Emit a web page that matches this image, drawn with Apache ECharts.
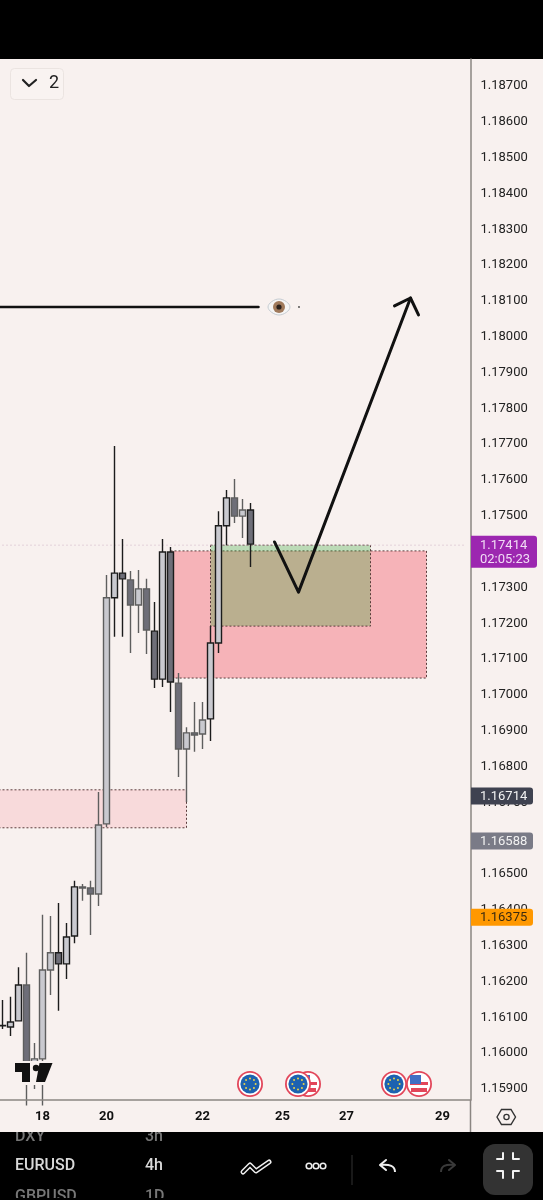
<!DOCTYPE html>
<html><head><meta charset="utf-8">
<style>html,body{margin:0;padding:0;background:#f8f1ef}#c{width:543px;height:1200px}</style>
<script src="https://cdn.jsdelivr.net/npm/echarts@6/dist/echarts.min.js"></script>
</head><body><div id="c"></div>
<script>
// ---------- data ----------
const dayLabels = {6:'18',14:'20',26:'22',36:'25',44:'27',56:'29'};
const categories = Array.from({length:60},(_,i)=>dayLabels[i]||'');
const yTicks = [1.159,1.160,1.161,1.162,1.163,1.164,1.165,1.166,1.167,1.168,1.169,1.170,1.171,1.172,1.173,1.174,1.175,1.176,1.177,1.178,1.179,1.180,1.181,1.182,1.183,1.184,1.185,1.186,1.187];
const opens  = [1.16072,1.16069,1.16086,1.16186,1.15971,1.15980,1.16228,1.16276,1.16245,1.16323,1.16457,1.16457,1.16440,1.16636,1.17267,1.17336,1.17317,1.17247,1.17292,1.17174,1.17040,1.17395,1.17029,1.16845,1.16890,1.16887,1.16929,1.17141,1.17468,1.17546,1.17495,1.17512];
const closes = [1.16073,1.16083,1.16186,1.15935,1.15980,1.16228,1.16276,1.16245,1.16320,1.16460,1.16460,1.16440,1.16633,1.17267,1.17336,1.17320,1.17247,1.17292,1.17177,1.17040,1.17395,1.17032,1.16845,1.16890,1.16884,1.16926,1.17141,1.17468,1.17546,1.17495,1.17512,1.17417];
const lows   = [1.16063,1.16044,1.16086,1.15850,1.15896,1.15850,1.16158,1.16114,1.16203,1.16303,1.16421,1.16326,1.16407,1.16627,1.17158,1.17158,1.17113,1.17169,1.17110,1.17015,1.17018,1.16948,1.16767,1.16697,1.16837,1.16845,1.16867,1.17113,1.17414,1.17476,1.17434,1.17353];
const highs  = [1.16144,1.16153,1.16236,1.16276,1.16024,1.16382,1.16379,1.16415,1.16359,1.16477,1.16468,1.16477,1.16725,1.17331,1.17691,1.17431,1.17342,1.17345,1.17320,1.17255,1.17431,1.17409,1.17057,1.16906,1.16976,1.16976,1.17188,1.17509,1.17568,1.17599,1.17543,1.17532];
const greyWick = [0,0,0,1,1,1,1,0,0,0,1,1,1,1,0,0,1,1,1,0,0,0,1,1,1,1,0,0,0,1,1,0];
const bigZone   = [22,54,1.17398,1.17043];
const greenZone = [27,47,1.17414,1.17188];
const lowZone   = [0,24,1.16731,1.16625];
const levelLine = [[0,1.18079],[33,1.18079]];
const arrowPath = [[35,1.17423],[38,1.17283],[52,1.18104]];
const arrowHead = [[50,1.18082],[52,1.18104],[53,1.18057]];
const lastPrice = 1.17414;
const countdown = '02:05:23';
const tagPrices = [1.16714,1.16588,1.16375];

// ---------- styles ----------
const BG='#f8f1ef', AXIS='#8b8682', FONT='Roboto, sans-serif';
const zoneFill=['#f6b3b8','rgba(45,165,50,0.3)','#f8dadb'];
const tagFill=['#3f4250','#7a7b87','#ff9800'], tagText=['#f2f2f2','#f2f2f2','#3a2a10'];

const candleData = opens.map((o,i)=>({
  value:[i+1,o,closes[i],lows[i],highs[i]],
  itemStyle: greyWick[i] ? {borderColor:'#5e5e5e',borderColor0:'#5e5e5e'} : undefined
}));

function zoneSeries(z,idx){
  return {type:'custom',z:1,silent:true,clip:true,data:[z],
    renderItem(p,api){
      const a=api.coord([api.value(0),api.value(2)]), b=api.coord([api.value(1),api.value(3)]);
      return {type:'rect',shape:{x:a[0],y:a[1],width:b[0]-a[0],height:b[1]-a[1]},
        style:{fill:zoneFill[idx],stroke:'#5a3c3c',lineWidth:1,lineDash:[2,2]}};
    }};
}
function lineSeries(d,w,extra){
  return Object.assign({type:'line',data:d,symbol:'none',silent:true,z:5,animation:false,
    lineStyle:{color:'#111',width:w,cap:'round',join:'round'}},extra||{});
}

// ---------- decorations ----------
const g=[];
function flagEU(x,y,z){
  g.push({type:'circle',z,shape:{cx:x,cy:y,r:13},style:{fill:'#e2465a'}});
  g.push({type:'circle',z,shape:{cx:x,cy:y,r:11.2},style:{fill:'#fff'}});
  g.push({type:'circle',z,shape:{cx:x,cy:y,r:9.6},style:{fill:'#1d62b0'}});
  for(let k=0;k<8;k++){const t=k*Math.PI/4;
    g.push({type:'circle',z,shape:{cx:x+5.6*Math.cos(t),cy:y+5.6*Math.sin(t),r:1},style:{fill:'#e9d24a'}});}
}
function flagUS(x,y,z){
  g.push({type:'circle',z,shape:{cx:x,cy:y,r:13},style:{fill:'#e2465a'}});
  g.push({type:'circle',z,shape:{cx:x,cy:y,r:11.2},style:{fill:'#fff'}});
  g.push({type:'rect',z,shape:{x:x-9,y:y-2,width:18,height:3},style:{fill:'#e2465a'}});
  g.push({type:'rect',z,shape:{x:x-8,y:y+4,width:16,height:4},style:{fill:'#e2465a'}});
  g.push({type:'rect',z,shape:{x:x-9,y:y-9,width:11,height:9},style:{fill:'#3f6fc4'}});
}
function poly(points,stroke,w,z,extra){
  g.push(Object.assign({type:'polyline',z,shape:{points},style:{stroke,lineWidth:w,fill:null,lineCap:'round',lineJoin:'round'}},extra||{}));
}
function txt(text,x,y,font,fill,z,align){
  g.push({type:'text',z,x,y,style:{text,font,fill,align:align||'left',verticalAlign:'middle'}});
}
// bars
g.push({type:'rect',z:0,shape:{x:0,y:0,width:543,height:59},style:{fill:'#000'}});
g.push({type:'rect',z:0,shape:{x:0,y:1132,width:543,height:68},style:{fill:'#000'}});
// wheel text
txt('DXY',15,1137,'500 16px '+FONT,'#777',1);
txt('3h',145,1137,'500 16px '+FONT,'#777',1);
txt('EURUSD',15,1166,'500 16px '+FONT,'#d9d9d9',1);
txt('4h',145,1166,'500 16px '+FONT,'#d9d9d9',1);
txt('GBPUSD',15,1197,'500 16px '+FONT,'#777',1);
txt('1D',145,1197,'500 16px '+FONT,'#777',1);
g.push({type:'rect',z:2,shape:{x:0,y:1198,width:543,height:2},style:{fill:'#000'}});
g.push({type:'rect',z:2,shape:{x:0,y:1100,width:543,height:32},style:{fill:BG}});
g.push({type:'line',z:3,shape:{x1:470.5,y1:1100,x2:470.5,y2:1132},style:{stroke:AXIS,lineWidth:1.5}});
// settings hexagon
g.push({type:'polygon',z:3,shape:{points:[[497,1117],[501.5,1109.5],[511,1109.5],[515.5,1117],[511,1124.5],[501.5,1124.5]]},style:{fill:'none',stroke:'#333',lineWidth:1.4}});
g.push({type:'circle',z:3,shape:{cx:506.5,cy:1117,r:2.6},style:{fill:'none',stroke:'#333',lineWidth:1.3}});
// toolbar icons
poly([[243,1172],[250,1165],[256,1171],[269,1162]],'#eee',5,3);
poly([[243,1172],[250,1165],[256,1171],[269,1162]],'#000',2,4);
[309,316,323].forEach(x=>g.push({type:'circle',z:3,shape:{cx:x,cy:1166,r:2.8},style:{fill:'none',stroke:'#eee',lineWidth:1.6}}));
g.push({type:'line',z:3,shape:{x1:352,y1:1155,x2:352,y2:1185},style:{stroke:'#333',lineWidth:1}});
poly([[386,1160],[380,1165],[386,1170]],'#eee',2,3);
g.push({type:'bezierCurve',z:3,shape:{x1:380,y1:1165,x2:395,y2:1172,cpx1:390,cpy1:1164,cpx2:395,cpy2:1166},style:{stroke:'#eee',lineWidth:2,fill:'none'}});
poly([[449,1160],[455,1165],[449,1170]],'#3a3a3a',2,3);
g.push({type:'bezierCurve',z:3,shape:{x1:455,y1:1165,x2:441,y2:1172,cpx1:445,cpy1:1164,cpx2:441,cpy2:1166},style:{stroke:'#3a3a3a',lineWidth:2,fill:'none'}});
g.push({type:'rect',z:3,shape:{x:483,y:1144,width:50,height:51,r:12},style:{fill:'#333'}});
poly([[497,1159],[503,1159],[503,1153]],'#f2f2f2',2,4);
poly([[519,1159],[513,1159],[513,1153]],'#f2f2f2',2,4);
poly([[497,1171],[503,1171],[503,1178]],'#f2f2f2',2,4);
poly([[519,1171],[513,1171],[513,1178]],'#f2f2f2',2,4);
// legend button
g.push({type:'rect',z:30,shape:{x:10.5,y:68.5,width:53,height:31,r:4},style:{fill:'#f9f3f1',stroke:'#ebe4e1',lineWidth:1}});
poly([[23,80],[29,86],[36,80]],'#222',2.2,31);
txt('2',54,83,'400 18px '+FONT,'#222',31,'center');
// eye
g.push({type:'polygon',z:30,shape:{points:[[268,307],[279,299],[290,307],[279,315]],smooth:0.45},style:{fill:'#f5f5f5',stroke:'#c6ccd2',lineWidth:1}});
g.push({type:'circle',z:31,shape:{cx:279,cy:307,r:6},style:{fill:'#a07a5c'}});
g.push({type:'circle',z:32,shape:{cx:279,cy:307,r:2.6},style:{fill:'#2a211c'}});
g.push({type:'circle',z:30,shape:{cx:299,cy:307,r:0.9},style:{fill:'#444'}});
// TradingView mark
g.push({type:'rect',z:30,shape:{x:13,y:1061,width:41,height:24},style:{fill:BG}});
g.push({type:'polygon',z:31,shape:{points:[[15,1063],[30,1063],[30,1082],[22,1082],[22,1072],[15,1072]]},style:{fill:'#111'}});
g.push({type:'circle',z:31,shape:{cx:36,cy:1068,r:3.2},style:{fill:'#111'}});
g.push({type:'polygon',z:31,shape:{points:[[39.5,1063],[52.5,1063],[45,1082],[36,1082]]},style:{fill:'#111'}});
// event flags
flagEU(250,1084,30);
flagUS(308,1084,30); flagEU(298,1084,31);
flagEU(394,1084,30); flagUS(419,1084,31);

// ---------- chart ----------
const chart=echarts.init(document.getElementById('c'),null,{renderer:'canvas'});
chart.setOption({
  animation:false,
  backgroundColor:BG,
  graphic:{elements:g},
  grid:{left:-9.5,width:480,top:59,height:1041,containLabel:false,outerBoundsMode:'none'},
  xAxis:{type:'category',data:categories,z:10,boundaryGap:true,
    axisLine:{lineStyle:{color:AXIS,width:1.5}},axisTick:{show:false},splitLine:{show:false},
    axisLabel:{interval:0,margin:10,color:'#111',fontFamily:FONT,fontWeight:700,fontSize:13}},
  yAxis:{type:'value',position:'right',min:1.158651,max:1.187712,z:10,scale:true,
    axisLine:{show:true,lineStyle:{color:AXIS,width:1.5}},axisTick:{show:false},splitLine:{show:false},
    axisLabel:{customValues:yTicks,margin:10,color:'#222',fontFamily:FONT,fontSize:13,
      rich:{p:{color:'#222',fontFamily:FONT,fontSize:13,padding:[3,0,0,0]}},
      formatter:v=>'{p|'+v.toFixed(5)+'}'}},
  series:[
    zoneSeries(bigZone,0),zoneSeries(greenZone,1),zoneSeries(lowZone,2),
    {type:'candlestick',z:3,barWidth:7,silent:true,data:candleData,
      encode:{x:0,y:[1,2,3,4]},
      itemStyle:{color:'#c9c9cf',color0:'#6e6e78',borderColor:'#1c1c1c',borderColor0:'#1c1c1c',borderWidth:1.4}},
    lineSeries([[0,lastPrice],[59,lastPrice]],1,{z:2,lineStyle:{color:'#cdb4c4',width:1,type:[1,3]}}),
    lineSeries(levelLine,2.5),
    lineSeries(arrowPath,3),
    lineSeries(arrowHead,3),
    {type:'custom',z:20,silent:true,clip:false,data:[[lastPrice]],
      encode:{y:0},
      renderItem(p,api){
        const y=api.coord([0,api.value(0)])[1];
        return {type:'group',children:[
          {type:'rect',shape:{x:471,y:y-9.5,width:66,height:32,r:[0,3,3,0]},style:{fill:'#9c27b0'}},
          {type:'text',x:480,y:y+0.5,style:{text:api.value(0).toFixed(5),font:'13px '+FONT,fill:'#f1dcf5',verticalAlign:'middle'}},
          {type:'text',x:480,y:y+14.5,style:{text:countdown,font:'13px '+FONT,fill:'#f1dcf5',verticalAlign:'middle'}}
        ]};
      }},
    {type:'custom',z:20,silent:true,clip:false,data:tagPrices.map(v=>[v]),
      encode:{y:0},
      renderItem(p,api){
        const y=api.coord([0,api.value(0)])[1], i=p.dataIndex;
        return {type:'group',children:[
          {type:'rect',shape:{x:471,y:y-8.5,width:62,height:17,r:[0,3,3,0]},style:{fill:tagFill[i]}},
          {type:'text',x:480,y:y+0.5,style:{text:api.value(0).toFixed(5),font:'13px '+FONT,fill:tagText[i],verticalAlign:'middle'}}
        ]};
      }}
  ]
});
</script></body></html>
